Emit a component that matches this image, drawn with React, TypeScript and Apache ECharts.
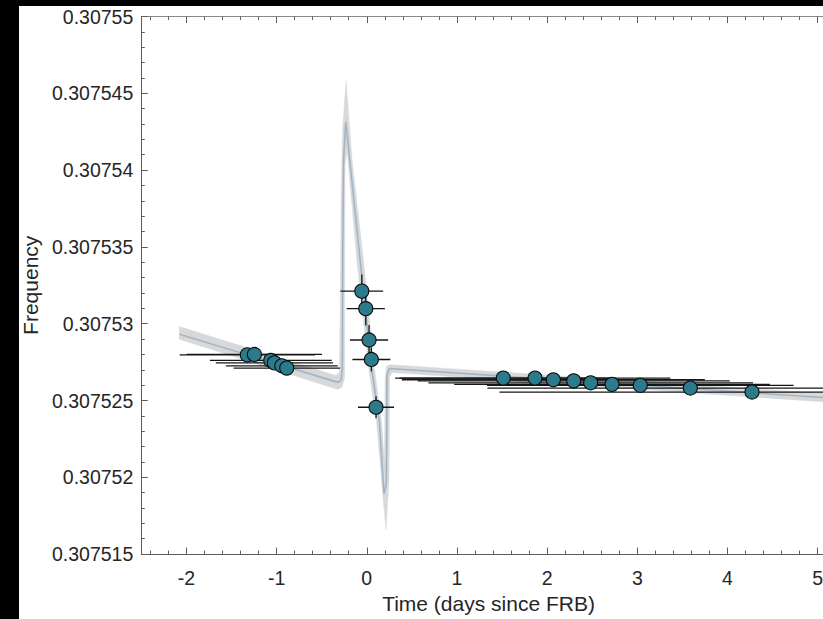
import React, { useEffect, useRef } from "react";
import * as echarts from "echarts";

// ---- axis ticks ----
const xMajorTicks = [-2, -1, 0, 1, 2, 3, 4, 5];
const xMin = -2.5;
const xMax = 5.2;
const yMin = 0.307515;
const yMax = 0.30755;
const yStep = 0.000005;

// ---- data: before FRB ----
const preX = [-1.324, -1.246, -1.064, -1.024, -0.942, -0.887];
const preY = [0.30752797, 0.307528, 0.30752761, 0.30752745, 0.30752726, 0.30752711];
const preXErr = [0.75, 0.75, 0.675, 0.65, 0.62, 0.59];
const preYErr = [0.15e-6, 0.15e-6, 0.15e-6, 0.15e-6, 0.15e-6, 0.15e-6];

// ---- data: around FRB ----
const nearX = [-0.055, -0.011, 0.0255, 0.051, 0.103];
const nearY = [0.30753212, 0.30753098, 0.30752894, 0.30752767, 0.30752456];
const nearXErr = [0.237, 0.212, 0.212, 0.21, 0.2];
const nearYErr = [1.08e-6, 1.1e-6, 0.97e-6, 0.78e-6, 0.71e-6];

// ---- data: after FRB ----
const postX = [1.514, 1.866, 2.069, 2.295, 2.483, 2.72, 3.033, 3.588, 4.272];
const postY = [0.30752646, 0.30752646, 0.30752635, 0.30752628, 0.30752615, 0.30752605, 0.30752599, 0.30752581, 0.30752555];
const postXErr = [1.2, 1.5, 1.68, 1.73, 1.8, 1.75, 1.7, 2.25, 2.8];
const postYErr = [0.15e-6, 0.15e-6, 0.15e-6, 0.15e-6, 0.15e-6, 0.15e-6, 0.15e-6, 0.15e-6, 0.15e-6];

// ---- model curve ----
const modelX = [-2.078, -0.318, -0.285, -0.271, -0.266, -0.257, -0.233, -0.074, 0.055, 0.14, 0.192, 0.217, 0.225, 0.247, 5.2];
const modelY = [0.30752931, 0.30752618, 0.30752633, 0.30752704, 0.30753483, 0.30754066, 0.30754315, 0.30753418, 0.30752704, 0.30752361, 0.30751894, 0.30751959, 0.30752665, 0.30752708, 0.30752514];

// ---- model confidence band outline ----
const bandX = [-2.078, -0.34, -0.302, -0.293, -0.285, -0.268, -0.229, -0.198, -0.163, -0.038, 0.086, 0.164, 0.197, 0.203, 0.22, 0.258, 5.2, 5.2, 0.28, 0.253, 0.247, 0.214, 0.181, 0.109, 0.023, -0.111, -0.218, -0.241, -0.246, -0.246, -0.274, -0.318, -2.078];
const bandY = [0.30752981, 0.30752662, 0.30752685, 0.30753158, 0.30753807, 0.30754261, 0.3075458, 0.30754339, 0.30754066, 0.30753418, 0.30752704, 0.30752361, 0.30752088, 0.30752639, 0.30752724, 0.30752733, 0.30752541, 0.30752486, 0.30752682, 0.30752652, 0.30751991, 0.3075166, 0.30751861, 0.30752361, 0.30752704, 0.30753418, 0.30754131, 0.30754034, 0.30753158, 0.30752652, 0.30752588, 0.30752571, 0.30752899];

const FONT = "'Liberation Sans', Arial, Helvetica, sans-serif";
const TEXT = "#262626";
const AXIS = "#5c5c5c";

export default function App() {
  const ref = useRef<HTMLDivElement>(null);

  useEffect(() => {
    if (!ref.current) return;
    const chart = echarts.init(ref.current, undefined, { renderer: "svg" });

    const xMinorTicks: number[] = [];
    const lo = [xMajorTicks[0] - 1, ...xMajorTicks, xMajorTicks[xMajorTicks.length - 1] + 1];
    for (let i = 0; i < lo.length - 1; i++) {
      for (let k = 1; k < 5; k++) {
        const v = +(lo[i] + k * 0.2).toFixed(3);
        if (v > xMin && v < xMax) xMinorTicks.push(v);
      }
    }

    const points: number[][] = [];
    preX.forEach((x, i) => points.push([x, preY[i], preXErr[i], preYErr[i]]));
    nearX.forEach((x, i) => points.push([x, nearY[i], nearXErr[i], nearYErr[i]]));
    postX.forEach((x, i) => points.push([x, postY[i], postXErr[i], postYErr[i]]));

    const barStyle = { stroke: "#161616", lineWidth: 1.3 };

    const baseX = {
      type: "value",
      min: xMin,
      max: xMax,
      splitLine: { show: false },
      axisLine: { onZero: false, lineStyle: { color: AXIS, width: 1 } },
    };

    const option: any = {
      animation: false,
      backgroundColor: "#ffffff",
      grid: { left: 141.3, top: 16.5, width: 694.4, height: 539.2, containLabel: false },
      xAxis: [
        {
          ...baseX,
          position: "bottom",
          name: "Time (days since FRB)",
          nameLocation: "middle",
          nameGap: 31,
          nameTextStyle: { color: TEXT, fontSize: 21, fontFamily: FONT },
          axisTick: { show: true, inside: true, length: 6.5, customValues: xMajorTicks, lineStyle: { color: AXIS } },
          axisLabel: { show: true, customValues: xMajorTicks, margin: 14, color: TEXT, fontSize: 19.5, fontFamily: FONT },
        },
        {
          ...baseX,
          position: "bottom",
          axisLine: { show: false, onZero: false },
          axisTick: { show: true, inside: true, length: 3.5, customValues: xMinorTicks, lineStyle: { color: AXIS } },
          axisLabel: { show: false },
        },
        {
          ...baseX,
          position: "top",
          axisLine: { onZero: false, lineStyle: { color: "#8a8a8a", width: 1 } },
          axisTick: { show: true, inside: true, length: 6.5, customValues: xMajorTicks, lineStyle: { color: AXIS } },
          axisLabel: { show: false },
        },
        {
          ...baseX,
          position: "top",
          axisLine: { show: false, onZero: false },
          axisTick: { show: true, inside: true, length: 3.5, customValues: xMinorTicks, lineStyle: { color: AXIS } },
          axisLabel: { show: false },
        },
      ],
      yAxis: [
        {
          type: "value",
          position: "left",
          min: yMin,
          max: yMax,
          interval: yStep,
          name: "Frequency",
          nameLocation: "middle",
          nameGap: 99,
          nameTextStyle: { color: TEXT, fontSize: 21, fontFamily: FONT },
          splitLine: { show: false },
          axisLine: { show: true, onZero: false, lineStyle: { color: AXIS, width: 1 } },
          axisTick: { show: true, inside: true, length: 6.5, lineStyle: { color: AXIS } },
          minorTick: { show: true, splitNumber: 5, length: 3.5, lineStyle: { color: AXIS } },
          axisLabel: {
            margin: 8,
            color: TEXT,
            fontSize: 19.5,
            fontFamily: FONT,
            formatter: (v: number) => String(parseFloat(v.toFixed(6))),
          },
        },
      ],
      series: [
        {
          type: "custom",
          name: "band",
          xAxisIndex: 0,
          yAxisIndex: 0,
          silent: true,
          z: 1,
          data: [[bandX[0], bandY[0]]],
          renderItem: (_params: any, api: any) => {
            const pts = bandX.map((x, i) => api.coord([x, bandY[i]]));
            return { type: "polygon", shape: { points: pts }, style: { fill: "#d8d8d8", stroke: "#d8d8d8", lineWidth: 0.5 } };
          },
        },
        {
          type: "line",
          name: "model",
          xAxisIndex: 0,
          yAxisIndex: 0,
          z: 2,
          showSymbol: false,
          symbol: "none",
          lineStyle: { color: "#a2b5c8", width: 1.6 },
          data: modelX.map((x, i) => [x, modelY[i]]),
        },
        {
          type: "custom",
          name: "errors",
          xAxisIndex: 0,
          yAxisIndex: 0,
          z: 3,
          encode: { x: 0, y: 1 },
          data: points,
          renderItem: (_params: any, api: any) => {
            const x = api.value(0);
            const y = api.value(1);
            const xe = api.value(2);
            const ye = api.value(3);
            const a = api.coord([x - xe, y]);
            const b = api.coord([x + xe, y]);
            const c = api.coord([x, y - ye]);
            const d = api.coord([x, y + ye]);
            return {
              type: "group",
              children: [
                { type: "line", shape: { x1: a[0], y1: a[1], x2: b[0], y2: b[1] }, style: barStyle },
                { type: "line", shape: { x1: c[0], y1: c[1], x2: d[0], y2: d[1] }, style: barStyle },
              ],
            };
          },
        },
        {
          type: "scatter",
          name: "data",
          xAxisIndex: 0,
          yAxisIndex: 0,
          z: 4,
          symbol: "circle",
          symbolSize: 14,
          itemStyle: { color: "#2c7b8c", borderColor: "#0a0a0a", borderWidth: 1.1, opacity: 1 },
          data: points.map((p) => [p[0], p[1]]),
        },
      ],
      graphic: [
        { type: "rect", z: 100, shape: { x: 0, y: 0, width: 900, height: 6 }, style: { fill: "#000000" } },
        { type: "rect", z: 100, shape: { x: 0, y: 0, width: 19, height: 619 }, style: { fill: "#000000" } },
      ],
    };

    chart.setOption(option);
    return () => chart.dispose();
  }, []);

  return (
    <div
      style={{ position: "fixed", left: 0, top: 0, width: 823, height: 619, overflow: "hidden", background: "#ffffff" }}
    >
      <div ref={ref} style={{ width: 880, height: 619 }} />
    </div>
  );
}
